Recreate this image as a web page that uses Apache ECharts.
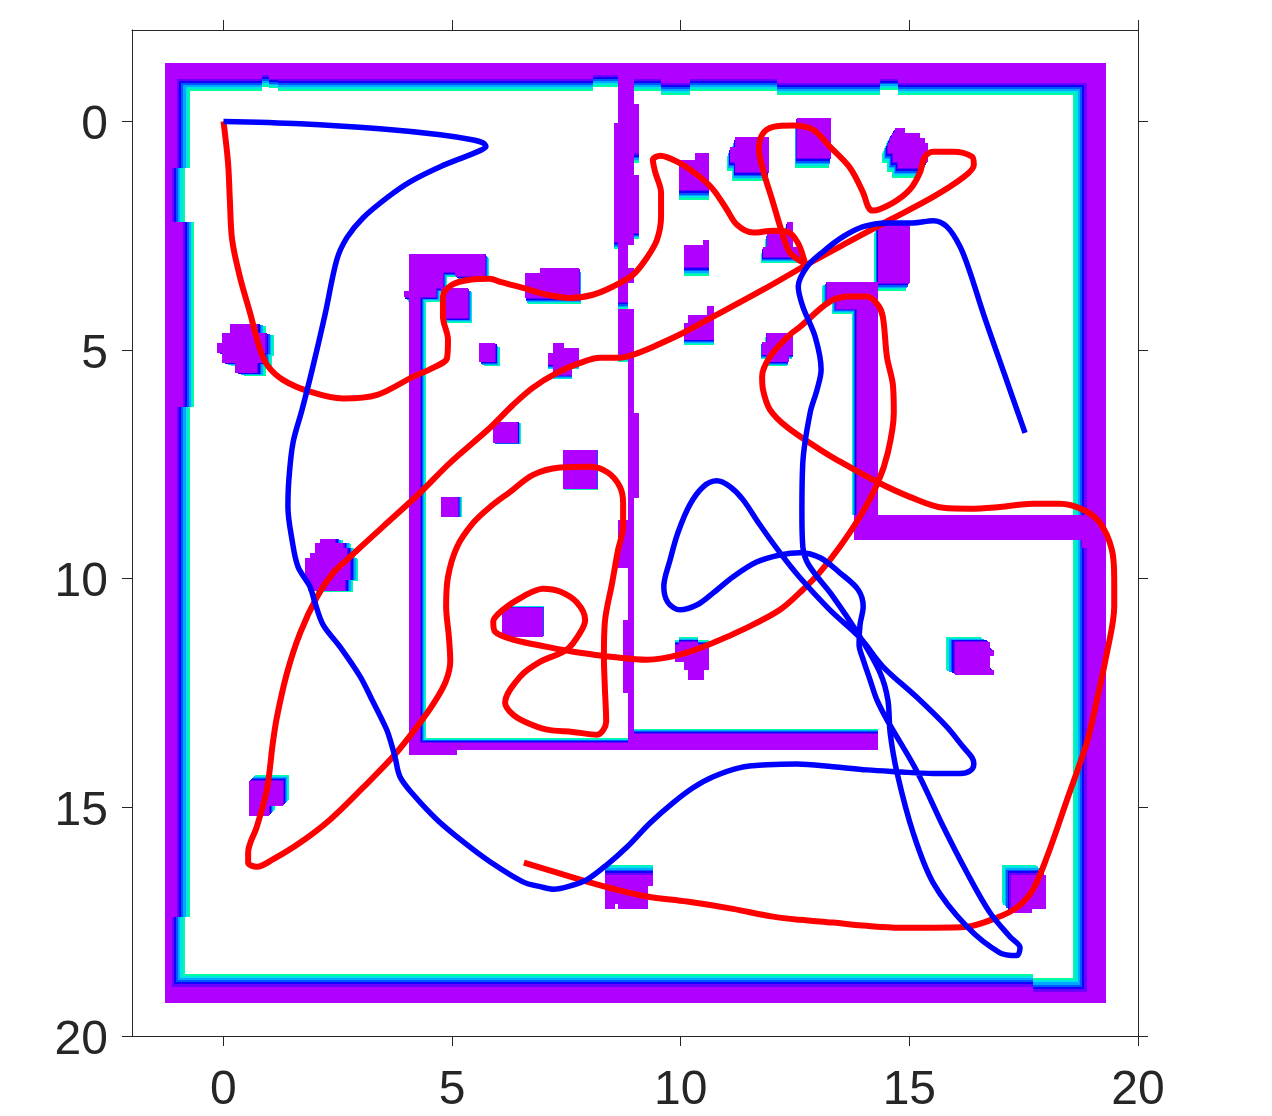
<!DOCTYPE html>
<html>
<head>
<meta charset="utf-8">
<style>html,body{margin:0;padding:0;background:#fff}#c{width:1272px;height:1116px}</style>
<script src="https://cdn.jsdelivr.net/npm/echarts@6/dist/echarts.min.js"></script>
</head>
<body>
<div id="c"></div>
<script>
const xTicks = [0, 5, 10, 15, 20];
const yTicks = [0, 5, 10, 15, 20];
const axisRange = [-2, 20];
const bandColors = ['#b000ff', '#6a00ff', '#1400ff', '#0058ff', '#00a8ff', '#00e4e4', '#00ffa0'];

// occupancy map: [shadeX, shadeY, [[x0, y0, x1, y1], ...]]
const wallShapes = [
  [0, 0.26, [[-1.28, -1.28, 0.85, -0.93]]],
  [0, 0.26, [[0.85, -1.28, 1.0, -1.02]]],
  [0, 0.2, [[1.0, -1.28, 1.2, -0.93]]],
  [0, 0.26, [[1.2, -1.28, 8.08, -0.93]]],
  [0, 0.26, [[8.08, -1.28, 8.63, -1.02]]],
  [0, 0.26, [[8.98, -1.28, 9.57, -0.93]]],
  [0, 0.28, [[9.57, -1.28, 10.2, -0.85]]],
  [0, 0.26, [[10.2, -1.28, 12.1, -0.93]]],
  [0, 0.28, [[12.1, -1.28, 14.36, -0.85]]],
  [0, 0.24, [[14.36, -1.28, 14.75, -0.93]]],
  [0, 0.28, [[14.75, -1.28, 19.3, -0.85]]],
  [0.27, 0, [[-1.28, -1.28, -1.01, 1.01]]],
  [0.27, 0, [[-1.28, 1.01, -1.12, 2.19]]],
  [0.24, 0, [[-1.28, 2.19, -0.88, 6.24]]],
  [0.27, 0, [[-1.28, 6.24, -1.01, 17.39]]],
  [0.27, 0, [[-1.28, 17.39, -1.12, 19.27]]],
  [0, -0.28, [[-1.28, 18.92, 17.7, 19.27]]],
  [0, -0.3, [[17.7, 19.03, 19.3, 19.27]]],
  [-0.3, 0, [[18.88, -1.28, 19.3, 19.27]]],
  [0, 0, [[13.79, 8.6, 18.88, 9.16]]],
  [-0.1, 0, [[18.78, 9.16, 18.88, 9.33]]],
  [-0.1, 0.1, [[13.2, 3.5, 14.32, 3.9], [13.4, 3.9, 14.32, 4.1]]],
  [-0.11, 0, [[13.85, 4.1, 14.32, 8.6]]],
  [0.09, 0.1, [[4.06, 2.89, 5.72, 3.26], [4.06, 3.26, 4.65, 3.84], [4.58, 3.26, 4.8, 3.65], [4.58, 3.26, 5.07, 3.3], [5.07, 3.26, 5.72, 3.38], [4.75, 3.65, 5.35, 4.3], [3.95, 3.7, 4.06, 3.84]]],
  [0.12, 0, [[4.06, 3.84, 4.3, 13.59]]],
  [0, 0, [[4.06, 13.59, 5.11, 13.85]]],
  [0, -0.11, [[4.3, 13.59, 8.98, 13.74]]],
  [0, -0.11, [[8.98, 13.39, 14.32, 13.74]]],
  [0, 0, [[8.85, -1.28, 8.98, 2.7], [8.85, 3.2, 8.98, 3.53], [8.85, 4.11, 8.98, 13.59]]],
  [0, 0.17, [[8.63, -1.28, 8.85, 3.94]]],
  [0, 0.1, [[8.63, 4.11, 8.85, 5.15]]],
  [0, 0.2, [[8.98, -0.39, 9.09, 0.7]]],
  [0, 0.15, [[8.98, 1.17, 9.09, 2.43]]],
  [0, 0.17, [[8.54, 0.03, 8.63, 2.63]]],
  [0, 0, [[8.98, 6.37, 9.09, 8.23]]],
  [0, 0, [[8.63, 8.71, 8.85, 9.76]]],
  [0, 0, [[8.74, 10.9, 8.85, 12.5]]]
];
const obstacleShapes = [
  [0.2, 0.06, [[0.14, 4.42, 0.73, 4.62], [-0.03, 4.62, 0.91, 4.84], [-0.14, 4.84, 0.91, 5.06], [-0.03, 5.06, 0.87, 5.28], [0.25, 5.28, 0.73, 5.5]]],
  [0.05, 0.13, [[6.6, 3.31, 7.78, 3.86], [6.92, 3.2, 7.78, 3.31]]],
  [0, 0.22, [[9.96, 0.84, 10.62, 1.49], [10.31, 0.68, 10.62, 0.84]]],
  [-0.06, 0.2, [[11.19, 0.33, 11.93, 1.1], [11.08, 0.55, 11.19, 0.88]]],
  [-0.05, 0.22, [[12.54, -0.08, 13.29, 0.79]]],
  [-0.13, 0.22, [[14.69, 0.14, 14.9, 0.25], [14.62, 0.25, 15.23, 0.36], [14.58, 0.36, 15.34, 0.47], [14.53, 0.47, 15.41, 0.68], [14.64, 0.68, 15.41, 0.88], [14.75, 0.88, 15.3, 1.01]]],
  [-0.09, 0.17, [[14.32, 2.26, 15.01, 3.53]]],
  [0, 0.2, [[10.07, 2.7, 10.62, 3.18], [10.49, 2.59, 10.62, 2.7]]],
  [-0.04, 0.13, [[12.32, 2.19, 12.46, 2.43], [11.89, 2.43, 12.46, 2.74], [11.8, 2.74, 12.6, 2.96]]],
  [0, 0.12, [[10.57, 4.03, 10.72, 4.23], [10.16, 4.23, 10.72, 4.4], [10.07, 4.4, 10.72, 4.77]]],
  [-0.03, 0.1, [[11.78, 4.82, 12.46, 5.1], [11.88, 4.62, 12.46, 4.82], [11.88, 5.1, 12.36, 5.25]]],
  [0.1, 0.1, [[5.59, 4.84, 5.94, 5.25]]],
  [0, 0.1, [[7.21, 4.84, 7.45, 4.95], [7.21, 4.95, 7.78, 5.06], [7.1, 5.06, 7.78, 5.32], [7.21, 5.32, 7.62, 5.54]]],
  [0.06, 0.03, [[5.9, 6.57, 6.44, 7.03]]],
  [0.02, 0.02, [[7.43, 7.18, 8.17, 8.03]]],
  [0.09, 0, [[4.76, 8.21, 5.13, 8.64]]],
  [0.18, 0.02, [[2.11, 9.13, 2.44, 9.21], [2.0, 9.21, 2.62, 9.32], [2.0, 9.32, 2.7, 9.43], [1.89, 9.43, 2.7, 9.54], [1.78, 9.54, 2.77, 10.02], [1.85, 10.02, 2.66, 10.26]]],
  [0.02, -0.03, [[6.09, 10.63, 6.99, 11.27]]],
  [0, -0.1, [[9.96, 11.38, 10.38, 11.44], [9.87, 11.44, 10.62, 11.82], [10.07, 11.82, 10.62, 11.99], [10.16, 11.99, 10.51, 12.21]]],
  [-0.2, -0.1, [[16.0, 11.38, 16.76, 12.1], [16.76, 11.55, 16.85, 11.68], [16.76, 11.99, 16.85, 12.1]]],
  [0.13, -0.13, [[0.56, 14.42, 1.3, 14.97], [0.56, 14.97, 1.0, 15.18]]],
  [0, -0.22, [[8.34, 16.47, 9.29, 17.12], [8.34, 17.12, 8.56, 17.22], [8.63, 17.12, 9.29, 17.22], [9.29, 16.47, 9.39, 16.71]]],
  [-0.2, -0.22, [[17.22, 16.47, 17.98, 17.22], [17.22, 17.22, 17.68, 17.31]]]
];

const bluePath = [
[0,0],[1.68,0.05],[3.42,0.16],[4.74,0.29],[5.44,0.40],[5.68,0.47],[5.74,0.55],[5.65,0.62],[5.39,0.73],[4.74,0.99],[4.08,1.32],[3.60,1.65],[3.05,2.11],[2.70,2.54],[2.48,3.02],[2.22,4.23],[1.94,5.43],[1.72,6.30],[1.52,7.03],[1.43,7.84],[1.41,8.43],[1.50,9.15],[1.63,9.74],[1.89,10.17],[2.00,10.52],[2.18,11.01],[2.55,11.49],[2.99,12.14],[3.25,12.65],[3.47,13.09],[3.60,13.38],[3.75,13.89],[3.86,14.33],[4.15,14.72],[4.67,15.27],[5.24,15.75],[5.83,16.19],[6.55,16.63],[6.95,16.74],[7.22,16.79],[7.55,16.73],[7.95,16.58],[8.39,16.25],[8.83,15.86],[9.33,15.34],[9.83,14.90],[10.27,14.57],[10.71,14.33],[11.30,14.13],[11.89,14.07],[12.54,14.05],[13.33,14.11],[14.07,14.18],[14.73,14.22],[15.52,14.26],[16.11,14.26],[16.33,14.20],[16.41,14.05],[16.37,13.91],[16.17,13.67],[15.82,13.24],[15.17,12.60],[14.42,11.92],[13.92,11.29],[13.26,10.68],[12.61,9.98],[12.17,9.43],[11.73,8.82],[11.36,8.27],[11.08,7.99],[10.79,7.86],[10.49,7.99],[10.20,8.38],[9.94,8.99],[9.77,9.58],[9.63,10.17],[9.72,10.52],[9.98,10.68],[10.36,10.57],[10.71,10.31],[11.14,9.96],[11.67,9.63],[12.17,9.48],[12.61,9.43],[13.05,9.54],[13.48,9.87],[13.88,10.24],[13.99,10.61],[13.92,11.01],[13.90,11.44],[13.99,11.77],[14.14,12.21],[14.29,12.65],[14.53,13.12],[15.17,14.22],[15.74,15.42],[16.26,16.43],[16.76,17.30],[17.20,17.83],[17.42,18.07],[17.35,18.24],[16.98,18.18],[16.26,17.61],[15.52,16.65],[15.08,15.55],[14.73,14.24],[14.58,13.37],[14.53,12.65],[14.36,12.06],[13.92,11.27],[13.33,10.39],[12.80,9.70],[12.67,9.30],[12.65,8.56],[12.67,7.46],[12.83,6.37],[12.98,5.87],[13.07,5.43],[12.94,4.71],[12.67,4.05],[12.57,3.61],[12.76,3.18],[13.11,2.85],[13.55,2.52],[13.99,2.30],[14.51,2.22],[15.08,2.22],[15.52,2.17],[15.82,2.30],[16.11,2.74],[16.33,3.31],[16.61,4.18],[17.07,5.50],[17.53,6.81]
];
const redPath = [
[0,0],[0.10,0.90],[0.14,1.71],[0.19,2.59],[0.36,3.40],[0.58,4.18],[0.80,4.99],[0.98,5.36],[1.30,5.65],[1.89,5.91],[2.62,6.06],[3.36,5.98],[4.15,5.58],[4.58,5.39],[4.89,5.17],[4.91,4.77],[4.80,4.27],[4.80,3.83],[5.00,3.57],[5.39,3.46],[5.83,3.44],[6.05,3.51],[6.55,3.64],[7.08,3.79],[7.58,3.86],[8.08,3.79],[8.52,3.61],[8.96,3.35],[9.26,2.98],[9.48,2.59],[9.57,2.08],[9.57,1.56],[9.44,1.10],[9.39,0.84],[9.55,0.75],[9.92,0.88],[10.36,1.17],[10.71,1.49],[11.01,1.93],[11.23,2.26],[11.58,2.43],[12.02,2.39],[12.32,2.41],[12.56,2.65],[12.72,3.11],[12.39,2.87],[12.21,2.41],[12.02,1.78],[11.80,1.06],[11.71,0.62],[11.78,0.29],[12.02,0.12],[12.46,0.09],[12.89,0.18],[13.26,0.55],[13.70,1.01],[13.99,1.56],[14.10,1.87],[14.20,1.95],[14.64,1.78],[15.01,1.49],[15.23,1.12],[15.34,0.77],[15.52,0.66],[15.95,0.66],[16.37,0.77],[16.41,0.95],[16.17,1.23],[15.52,1.65],[14.58,2.15],[13.64,2.65],[12.83,3.09],[11.80,3.68],[10.71,4.27],[9.98,4.66],[9.39,4.93],[8.96,5.10],[8.67,5.17],[8.24,5.17],[7.80,5.28],[7.29,5.50],[6.77,5.82],[6.33,6.20],[5.83,6.70],[4.96,7.46],[4.30,8.12],[3.49,8.86],[2.77,9.52],[2.40,9.87],[2.05,10.39],[1.68,11.18],[1.39,12.06],[1.17,13.02],[1.08,13.59],[0.95,14.61],[0.73,15.42],[0.54,15.99],[0.54,16.21],[0.73,16.30],[1.08,16.14],[1.68,15.77],[2.33,15.27],[3.05,14.57],[3.71,13.89],[4.23,13.24],[4.60,12.72],[4.86,12.25],[4.96,11.80],[4.93,11.27],[4.87,10.61],[4.91,9.96],[5.11,9.30],[5.46,8.78],[5.83,8.43],[6.27,8.10],[6.77,7.73],[7.36,7.57],[8.02,7.55],[8.41,7.68],[8.67,7.99],[8.74,8.34],[8.74,8.86],[8.63,9.37],[8.50,10.09],[8.34,10.96],[8.32,11.71],[8.34,12.36],[8.37,13.13],[8.17,13.41],[7.64,13.35],[7.08,13.30],[6.64,13.15],[6.33,12.97],[6.16,12.71],[6.49,12.14],[6.92,11.82],[7.51,11.55],[7.80,11.18],[7.91,10.90],[7.73,10.52],[7.36,10.28],[6.99,10.22],[6.55,10.39],[6.11,10.68],[5.90,10.94],[5.94,11.16],[6.33,11.33],[7.08,11.49],[7.80,11.62],[8.52,11.71],[9.26,11.77],[9.98,11.66],[10.71,11.40],[11.45,11.07],[12.17,10.68],[12.67,10.24],[13.05,9.85],[13.48,9.30],[13.92,8.64],[14.31,7.90],[14.53,7.24],[14.66,6.37],[14.64,5.76],[14.51,5.15],[14.42,4.27],[14.31,4.01],[14.07,3.83],[13.70,3.83],[13.26,3.94],[12.61,4.49],[12.39,4.66],[11.95,5.15],[11.78,5.58],[11.80,5.87],[11.95,6.30],[12.32,6.68],[13.05,7.18],[13.33,7.35],[14.29,7.88],[15.01,8.21],[15.74,8.45],[16.33,8.47],[16.98,8.43],[17.70,8.36],[18.29,8.36],[18.80,8.49],[19.17,8.78],[19.43,9.37],[19.48,10.02],[19.48,10.61],[19.32,11.62],[19.02,13.02],[18.88,13.59],[18.45,14.83],[18.01,16.08],[17.70,16.80],[17.35,17.19],[16.92,17.41],[16.26,17.61],[15.52,17.63],[14.80,17.63],[14.07,17.59],[13.33,17.52],[12.61,17.46],[12.02,17.39],[11.14,17.22],[10.14,17.06],[9.26,16.95],[8.52,16.78],[7.80,16.58],[6.57,16.21]
];

const shapes = wallShapes.concat(obstacleShapes);
const last = bandColors.length - 1;
const mapCells = [];
for (let k = last; k >= 0; k--) {
  shapes.forEach(function (s) {
    if (k > 0 && s[0] === 0 && s[1] === 0) return;
    s[2].forEach(function (r) {
      const dx = s[0] * k / last, dy = s[1] * k / last;
      mapCells.push([r[0] + dx, r[1] + dy, r[2] + dx, r[3] + dy, k]);
    });
  });
}

const ink = '#262626';
function axisCommon(ticks, showLabel, margin, extra) {
  return Object.assign({
    type: 'value', min: axisRange[0], max: axisRange[1],
    splitLine: { show: false },
    axisLine: { show: true, onZero: false, lineStyle: { color: ink, width: 1 } },
    axisTick: { show: true, inside: false, length: 10, customValues: ticks, lineStyle: { color: ink, width: 1 } },
    axisLabel: Object.assign({
      show: showLabel, margin: margin, customValues: ticks, hideOverlap: false,
      fontFamily: 'Liberation Sans', fontSize: 48, color: ink
    }, extra || {})
  });
}

const chart = echarts.init(document.getElementById('c'), null, { renderer: 'canvas' });
chart.setOption({
  animation: false,
  backgroundColor: '#ffffff',
  grid: { left: 132, top: 30, width: 1006, height: 1006, containLabel: false },
  xAxis: [
    Object.assign(axisCommon(xTicks, true, 31), { position: 'bottom' }),
    Object.assign(axisCommon(xTicks, false, 8), { position: 'top' })
  ],
  yAxis: [
    Object.assign(axisCommon(yTicks, true, 24, { verticalAlign: 'top', lineHeight: 9 }), { position: 'left', inverse: true }),
    Object.assign(axisCommon(yTicks, false, 8), { position: 'right', inverse: true })
  ],
  series: [
    {
      type: 'custom', silent: true, clip: true,
      encode: { x: [0, 2], y: [1, 3] },
      data: mapCells,
      renderItem: function (params, api) {
        const a = api.coord([api.value(0), api.value(1)]);
        const b = api.coord([api.value(2), api.value(3)]);
        const x = Math.round(a[0]), y = Math.round(a[1]);
        return {
          type: 'rect',
          shape: { x: x, y: y, width: Math.round(b[0]) - x, height: Math.round(b[1]) - y },
          style: { fill: bandColors[api.value(4)] }
        };
      }
    },
    {
      type: 'line', data: redPath, smooth: 0.33, showSymbol: false, silent: true, z: 3,
      lineStyle: { color: '#ff0000', width: 6, cap: 'butt', join: 'round' }
    },
    {
      type: 'line', data: bluePath, smooth: 0.33, showSymbol: false, silent: true, z: 4,
      lineStyle: { color: '#0000ff', width: 5.5, cap: 'butt', join: 'round' }
    }
  ]
});
</script>
</body>
</html>
